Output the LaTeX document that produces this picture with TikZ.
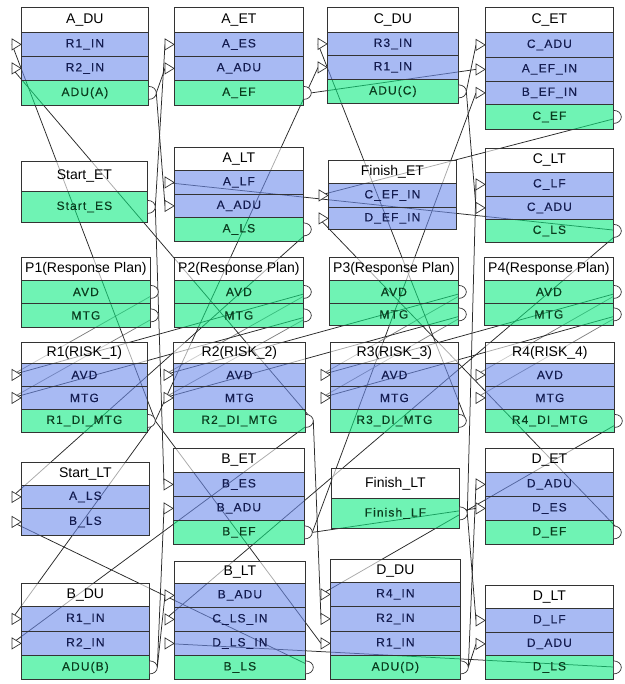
\documentclass[tikz,border=0pt]{standalone}
\usepackage{fontspec}
\setmainfont{Liberation Sans}
\newfontfamily\rowfont[LetterSpace=9,FakeBold=0.25]{Liberation Sans}
\usetikzlibrary{backgrounds}
\definecolor{bluefill}{RGB}{110,140,235}
\definecolor{greenfill}{RGB}{15,235,130}
\definecolor{bluetext}{RGB}{20,28,80}
\definecolor{greentext}{RGB}{10,60,30}
\definecolor{linecol}{RGB}{40,40,40}
\tikzset{
  cell/.style={draw=black!80, line width=0.8pt, inner sep=0pt, anchor=north west, fill opacity=0.6, text opacity=1},
  ttl/.style={cell, fill=white, text=black, font=\fontsize{14}{15}\selectfont},
  inrow/.style={cell, fill=bluefill, text=bluetext, font=\rowfont\fontsize{12}{13}\selectfont},
  outrow/.style={cell, fill=greenfill, text=greentext, font=\rowfont\fontsize{12}{13}\selectfont},
  port/.style={draw=black!80, fill=white, line width=0.7pt},
  conn/.style={draw=linecol, line width=0.75pt},
  connl/.style={draw=black!50, line width=0.75pt}
}
\newcommand\cell[7]{\node[#1,minimum width=#5pt,minimum height=#6pt] (#2) at (#3,#4) {#7};}
\newcommand\inp[1]{\draw[port] (#1.west) -- ++(-9,-5.5) -- ++(0,11) -- cycle;
  \coordinate (#1-p) at ([xshift=-9pt]#1.west);}
\newcommand\outp[1]{\draw[port] ([yshift=6.5pt]#1.east) arc[start angle=90,end angle=-90,x radius=7.5pt,y radius=6.5pt];
  \coordinate (#1-p) at ([xshift=7.5pt]#1.east);}
\begin{document}
\begin{tikzpicture}[x=1pt,y=-1pt]
\useasboundingbox (0,0) rectangle (624,684);
% ---- row 1
\cell{ttl}{aduT}{21}{7}{127}{25}{A\_DU}
\cell{inrow}{aduR1}{21}{32}{127}{24}{R1\_IN}
\cell{inrow}{aduR2}{21}{56}{127}{24}{R2\_IN}
\cell{outrow}{aduO}{21}{80}{127}{25}{ADU(A)}
\cell{ttl}{aetT}{174}{7}{129}{25}{A\_ET}
\cell{inrow}{aetES}{174}{32}{129}{24}{A\_ES}
\cell{inrow}{aetADU}{174}{56}{129}{24}{A\_ADU}
\cell{outrow}{aetEF}{174}{80}{129}{25}{A\_EF}
\cell{ttl}{cduT}{327}{7}{131}{25}{C\_DU}
\cell{inrow}{cduR3}{327}{32}{131}{23}{R3\_IN}
\cell{inrow}{cduR1}{327}{55}{131}{24}{R1\_IN}
\cell{outrow}{cduO}{327}{79}{131}{24}{ADU(C)}
\cell{ttl}{cetT}{485}{7}{128}{25}{C\_ET}
\cell{inrow}{cetADU}{485}{32}{128}{25}{C\_ADU}
\cell{inrow}{cetA}{485}{57}{128}{24}{A\_EF\_IN}
\cell{inrow}{cetB}{485}{81}{128}{23}{B\_EF\_IN}
\cell{outrow}{cetEF}{485}{104}{128}{25}{C\_EF}
% ---- row 2
\cell{ttl}{setT}{21}{161}{126}{30}{Start\_ET}
\cell{outrow}{setES}{21}{191}{126}{31}{Start\_ES}
\cell{ttl}{altT}{174}{147}{129}{23}{A\_LT}
\cell{inrow}{altLF}{174}{170}{129}{24}{A\_LF}
\cell{inrow}{altADU}{174}{194}{129}{23}{A\_ADU}
\cell{outrow}{altLS}{174}{217}{129}{24}{A\_LS}
\cell{ttl}{fetT}{328}{160}{128}{23}{Finish\_ET}
\cell{inrow}{fetC}{328}{183}{128}{24}{C\_EF\_IN}
\cell{inrow}{fetD}{328}{207}{128}{22}{D\_EF\_IN}
\cell{ttl}{cltT}{485}{148}{128}{24}{C\_LT}
\cell{inrow}{cltLF}{485}{172}{128}{24}{C\_LF}
\cell{inrow}{cltADU}{485}{196}{128}{23}{C\_ADU}
\cell{outrow}{cltLS}{485}{219}{128}{23}{C\_LS}
% ---- row 3
\cell{ttl}{pAT}{21}{257}{129}{23}{P1(Response Plan)}
\cell{outrow}{pAA}{21}{280}{129}{23}{AVD}
\cell{outrow}{pAM}{21}{303}{129}{24}{MTG}
\cell{ttl}{pBT}{174}{257}{129}{23}{P2(Response Plan)}
\cell{outrow}{pBA}{174}{280}{129}{23}{AVD}
\cell{outrow}{pBM}{174}{303}{129}{24}{MTG}
\cell{ttl}{pCT}{329}{257}{129}{23}{P3(Response Plan)}
\cell{outrow}{pCA}{329}{280}{129}{23}{AVD}
\cell{outrow}{pCM}{329}{303}{129}{22}{MTG}
\cell{ttl}{pDT}{484}{257}{129}{23}{P4(Response Plan)}
\cell{outrow}{pDA}{484}{280}{129}{23}{AVD}
\cell{outrow}{pDM}{484}{303}{129}{22}{MTG}
% ---- row 4
\cell{ttl}{rAT}{21}{342}{126}{21}{R1(RISK\_1)}
\cell{inrow}{rAA}{21}{363}{126}{23}{AVD}
\cell{inrow}{rAM}{21}{386}{126}{23}{MTG}
\cell{outrow}{rAO}{21}{409}{126}{23}{R1\_DI\_MTG}
\cell{ttl}{rBT}{173}{342}{132}{21}{R2(RISK\_2)}
\cell{inrow}{rBA}{173}{363}{132}{23}{AVD}
\cell{inrow}{rBM}{173}{386}{132}{23}{MTG}
\cell{outrow}{rBO}{173}{409}{132}{23}{R2\_DI\_MTG}
\cell{ttl}{rCT}{330}{342}{128}{21}{R3(RISK\_3)}
\cell{inrow}{rCA}{330}{363}{128}{23}{AVD}
\cell{inrow}{rCM}{330}{386}{128}{23}{MTG}
\cell{outrow}{rCO}{330}{409}{128}{23}{R3\_DI\_MTG}
\cell{ttl}{rDT}{485}{342}{129}{21}{R4(RISK\_4)}
\cell{inrow}{rDA}{485}{363}{129}{23}{AVD}
\cell{inrow}{rDM}{485}{386}{129}{23}{MTG}
\cell{outrow}{rDO}{485}{409}{129}{23}{R4\_DI\_MTG}
% ---- row 5
\cell{ttl}{sltT}{21}{462}{128}{23}{Start\_LT}
\cell{inrow}{sltA}{21}{485}{128}{23}{A\_LS}
\cell{inrow}{sltB}{21}{508}{128}{27}{B\_LS}
\cell{ttl}{betT}{173}{448}{131}{24}{B\_ET}
\cell{inrow}{betES}{173}{472}{131}{24}{B\_ES}
\cell{inrow}{betADU}{173}{496}{131}{24}{B\_ADU}
\cell{outrow}{betEF}{173}{520}{131}{24}{B\_EF}
\cell{ttl}{fltT}{331}{468}{128}{30}{Finish\_LT}
\cell{outrow}{fltLF}{331}{498}{128}{30}{Finish\_LF}
\cell{ttl}{detT}{485}{448}{128}{24}{D\_ET}
\cell{inrow}{detADU}{485}{472}{128}{24}{D\_ADU}
\cell{inrow}{detES}{485}{496}{128}{24}{D\_ES}
\cell{outrow}{detEF}{485}{520}{128}{24}{D\_EF}
% ---- row 6
\cell{ttl}{bduT}{21}{583}{128}{23}{B\_DU}
\cell{inrow}{bduR1}{21}{606}{128}{25}{R1\_IN}
\cell{inrow}{bduR2}{21}{631}{128}{24}{R2\_IN}
\cell{outrow}{bduO}{21}{655}{128}{24}{ADU(B)}
\cell{ttl}{bltT}{174}{561}{131}{22}{B\_LT}
\cell{inrow}{bltADU}{174}{583}{131}{24}{B\_ADU}
\cell{inrow}{bltC}{174}{607}{131}{24}{C\_LS\_IN}
\cell{inrow}{bltD}{174}{631}{131}{24}{D\_LS\_IN}
\cell{outrow}{bltLS}{174}{655}{131}{24}{B\_LS}
\cell{ttl}{dduT}{330}{559}{130}{23}{D\_DU}
\cell{inrow}{dduR4}{330}{582}{130}{24}{R4\_IN}
\cell{inrow}{dduR2}{330}{606}{130}{25}{R2\_IN}
\cell{inrow}{dduR1}{330}{631}{130}{24}{R1\_IN}
\cell{outrow}{dduO}{330}{655}{130}{24}{ADU(D)}
\cell{ttl}{dltT}{485}{585}{128}{23}{D\_LT}
\cell{inrow}{dltLF}{485}{608}{128}{24}{D\_LF}
\cell{inrow}{dltADU}{485}{632}{128}{23}{D\_ADU}
\cell{outrow}{dltLS}{485}{655}{128}{24}{D\_LS}
% ---- ports
\foreach \n in {aduR1,aduR2,aetES,aetADU,cduR3,cduR1,cetADU,cetA,cetB,
  altLF,altADU,fetC,fetD,cltLF,cltADU,rAA,rAM,rBA,rBM,rCA,rCM,rDA,rDM,
  sltA,sltB,betES,betADU,detADU,detES,bduR1,bduR2,bltADU,bltC,bltD,
  dduR4,dduR2,dduR1,dltLF,dltADU} {\inp{\n}}
\foreach \n in {aduO,aetEF,cduO,cetEF,setES,altLS,cltLS,pAA,pAM,pBA,pBM,
  pCA,pCM,pDA,pDM,rAO,rBO,rCO,rDO,betEF,fltLF,detEF,bduO,bltLS,dduO,dltLS} {\outp{\n}}
% ---- connectors (behind the translucent boxes)
\begin{scope}[on background layer]
\fill[white] (0,0) rectangle (624,684);
\draw[conn] (setES-p) -- (aetES-p);
\draw[conn] (setES-p) -- (betES-p);
\draw[conn] (aduO-p) -- (aetADU-p);
\draw[conn] (aduO-p) -- (altADU-p);
\draw[conn] (bduO-p) -- (betADU-p);
\draw[conn] (bduO-p) -- (bltADU-p);
\draw[conn] (cduO-p) -- (cetADU-p);
\draw[conn] (cduO-p) -- (cltADU-p);
\draw[conn] (dduO-p) -- (detADU-p);
\draw[conn] (dduO-p) -- (dltADU-p);
\draw[conn] (aetEF-p) -- (cetA-p);
\draw[conn] (betEF-p) -- (cetB-p);
\draw[conn] (betEF-p) -- (detES-p);
\draw[conn] (cetEF-p) -- (fetC-p);
\draw[conn] (detEF-p) -- (fetD-p);
\draw[conn] (fltLF-p) -- (cltLF-p);
\draw[conn] (fltLF-p) -- (dltLF-p);
\draw[conn] (cltLS-p) -- (altLF-p);
\draw[conn] (cltLS-p) -- (bltC-p);
\draw[conn] (dltLS-p) -- (bltD-p);
\draw[conn] (altLS-p) -- (sltA-p);
\draw[conn] (bltLS-p) -- (sltB-p);
\draw[connl] (pAA-p) -- (rAA-p);
\draw[connl] (pAM-p) -- (rAM-p);
\draw[connl] (pBA-p) -- (rBA-p);
\draw[connl] (pBM-p) -- (rBM-p);
\draw[connl] (pCA-p) -- (rCA-p);
\draw[connl] (pCM-p) -- (rCM-p);
\draw[connl] (pDA-p) -- (rDA-p);
\draw[connl] (pDM-p) -- (rDM-p);
\draw[conn] (pBA-p) -- (rAA-p);
\draw[conn] (pBM-p) -- (rAM-p);
\draw[conn] (pCA-p) -- (rBA-p);
\draw[conn] (pCM-p) -- (rBM-p);
\draw[conn] (pDA-p) -- (rCA-p);
\draw[conn] (pDM-p) -- (rCM-p);
\draw[conn] (rAO-p) -- (aduR1-p);
\draw[conn] (rAO-p) -- (bduR1-p);
\draw[conn] (rAO-p) -- (cduR1-p);
\draw[conn] (rAO-p) -- (dduR1-p);
\draw[conn] (rBO-p) -- (aduR2-p);
\draw[conn] (rBO-p) -- (bduR2-p);
\draw[conn] (rBO-p) -- (dduR2-p);
\draw[conn] (rCO-p) -- (cduR3-p);
\draw[conn] (rDO-p) -- (dduR4-p);
\end{scope}
\end{tikzpicture}
\end{document}
